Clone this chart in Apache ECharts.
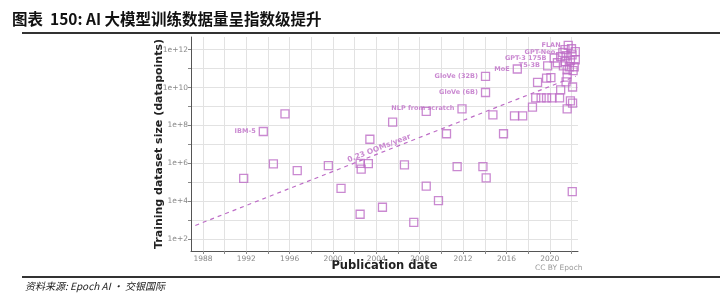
<!DOCTYPE html>
<html><head><meta charset="utf-8">
<script src="https://cdn.jsdelivr.net/npm/echarts@6/dist/echarts.min.js"></script>
<style>html,body{margin:0;padding:0;background:#fff}#c{width:720px;height:294px}</style>
</head><body><div id="c"></div>
<script>
// Unlabelled models: publication year and log10(training dataset size)
const pointYears = [1991.76,1994.5,1995.57,1996.7,1999.57,2000.74,2002.5,2002.6,2002.5,2003.26,2003.4,2004.56,2005.5,2006.59,2007.45,2008.6,2008.6,2009.73,2010.47,2011.45,2013.83,2014.13,2014.75,2015.73,2016.74,2017.5,2018.4,2018.87,2019.7,2020.1,2018.7,2019.2,2019.7,2020.2,2020.9,2021.0,2021.6,2021.9,2022.1,2022.1,2021.5,2021.6,2022.07,2021.4,2022.0,2022.35,2021.5,2022.05,2021.0,2021.4,2021.9,2022.35,2021.25,2021.8,2022.25,2021.6,2022.15,2020.7];
const pointLog10Size = [5.21,5.97,8.61,5.61,5.88,4.68,6.0,5.69,3.31,5.98,7.27,3.68,8.17,5.92,2.88,4.80,8.74,4.03,7.56,5.83,5.83,5.23,8.56,7.56,8.51,8.51,8.97,10.27,10.5,10.53,9.46,9.46,9.46,9.46,9.46,9.88,8.88,9.3,9.18,10.03,10.3,10.55,4.50,12.0,12.05,11.9,11.68,11.73,11.63,11.37,11.42,11.47,11.15,11.1,11.1,10.94,10.89,11.31];
// Labelled models
const namedModels = ['IBM-5','GloVe (32B)','GloVe (6B)','NLP from scratch','MoE','T5-3B','GPT-3 175B','GPT-Neo','FLAN'];
const namedYears = [1993.57,2014.07,2014.07,2011.9,2017.0,2019.8,2020.4,2021.2,2021.7];
const namedLog10Size = [7.68,10.59,9.74,8.88,10.98,11.15,11.56,11.86,12.23];
// Trend line endpoints (year, log10 size)
const trendYears = [1987.3, 2022.4];
const trendLog10Size = [2.72, 10.6];
const trendLabel = '0.23 OOMs/year';
const trendLabelAt = [2004.25, 6.79];
// Ticks
const xGridYears = [1988,1990,1992,1994,1996,1998,2000,2002,2004,2006,2008,2010,2012,2014,2016,2018,2020,2022];
const xLabelYears = [1988,1992,1996,2000,2004,2008,2012,2016,2020];
const yGridExp = [2,3,4,5,6,7,8,9,10,11,12];
const yLabelExp = [2,4,6,8,10,12];

const purple = '#bd6cc6';
const chart = echarts.init(document.getElementById('c'));
const sym = {symbol:'rect', symbolSize:8, itemStyle:{color:'rgba(255,255,255,0)', borderColor:purple, borderWidth:1.3}};
chart.setOption({
  animation:false,
  title:{text:'图表  150: AI 大模型训练数据量呈指数级提升', left:7, top:6,
    textStyle:{fontFamily:'Noto Sans CJK SC', fontWeight:'bold', fontSize:15.5, color:'#111'}},
  graphic:[
    {type:'line', shape:{x1:22,y1:33,x2:720,y2:33}, style:{stroke:'#333', lineWidth:2}},
    {type:'line', shape:{x1:22,y1:277,x2:720,y2:277}, style:{stroke:'#333', lineWidth:2}},
    {type:'text', left:25, top:281, style:{text:'资料来源: Epoch AI · 交银国际', font:'italic 10px "Noto Sans CJK SC"', fill:'#222'}},
    {type:'text', left:535, top:264, style:{text:'CC BY Epoch', font:'7.5px "DejaVu Sans"', fill:'#999'}}
  ],
  grid:{left:191, right:142, top:37, bottom:43},
  xAxis:{type:'value', min:1986.9, max:2022.6,
    name:'Publication date', nameLocation:'middle', nameGap:9, nameMoveOverlap:false,
    nameTextStyle:{fontFamily:'DejaVu Sans', fontWeight:'bold', fontSize:11.5, color:'#222', verticalAlign:'top'},
    axisLine:{show:true, lineStyle:{color:'#555', width:1}},
    axisTick:{show:true, length:3, customValues:xGridYears, lineStyle:{color:'#888'}},
    axisLabel:{customValues:xLabelYears, formatter:v=>String(v), fontFamily:'DejaVu Sans', fontSize:7.5, color:'#888', margin:4},
    splitLine:{show:true, lineStyle:{color:'#e2e2e2', width:1}}},
  yAxis:{type:'value', min:1.37, max:12.67,
    name:'Training dataset size (datapoints)', nameLocation:'middle', nameGap:26, nameMoveOverlap:false,
    nameTextStyle:{fontFamily:'DejaVu Sans', fontWeight:'bold', fontSize:11, color:'#222'},
    axisLine:{show:true, lineStyle:{color:'#555', width:1}},
    axisTick:{show:true, length:3, customValues:yGridExp, lineStyle:{color:'#888'}},
    axisLabel:{customValues:yLabelExp, formatter:v=>'1e+'+v, fontFamily:'DejaVu Sans', fontSize:7.5, color:'#888', margin:3},
    splitLine:{show:true, lineStyle:{color:'#e2e2e2', width:1}}},
  series:[
    {type:'line', data:trendYears.map((x,i)=>[x,trendLog10Size[i]]), symbol:'none',
     lineStyle:{color:purple, width:1.2, type:[4,4]}, z:1},
    {type:'scatter', data:[trendLabelAt], symbolSize:0, z:5, silent:true,
     label:{show:true, position:'inside', formatter:trendLabel, rotate:21, fontFamily:'DejaVu Sans', fontWeight:'bold', fontSize:7.5, color:purple}},
    Object.assign({type:'scatter', data:pointYears.map((x,i)=>[x,pointLog10Size[i]]), z:3}, sym),
    Object.assign({type:'scatter', data:namedYears.map((x,i)=>[x,namedLog10Size[i]]), z:4,
      label:{show:true, position:'left', distance:3, formatter:p=>namedModels[p.dataIndex],
        fontFamily:'DejaVu Sans', fontWeight:'bold', fontSize:6.5, color:purple}}, sym)
  ]
});
</script></body></html>
